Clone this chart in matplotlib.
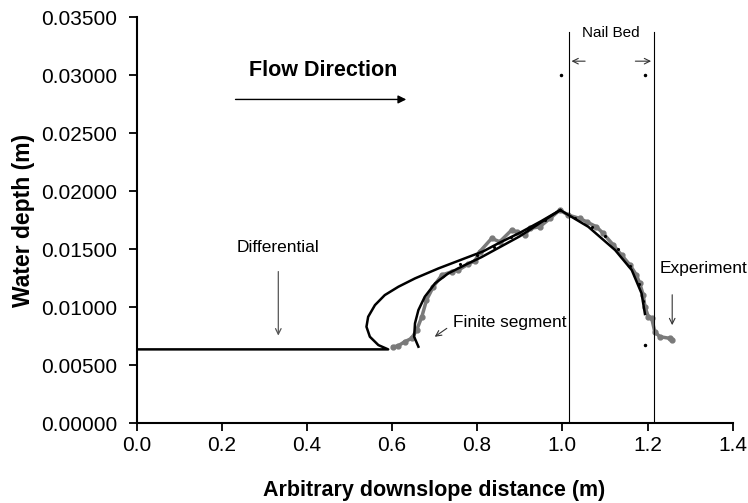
import numpy as np
import matplotlib.pyplot as plt

plt.rcParams['font.family'] = ['Liberation Sans', 'DejaVu Sans']

# differential solution (solid black)
diff_x = [0.0, 0.591, 0.568, 0.548, 0.540, 0.544, 0.560, 0.583, 0.615, 0.654, 0.709,
          0.771, 0.814, 0.850, 0.900, 0.950, 0.995, 1.061, 1.124, 1.163, 1.186, 1.194]
diff_y = [0.00635, 0.00635, 0.00672, 0.00744, 0.0083, 0.00916, 0.01017, 0.01103, 0.01175,
          0.01247, 0.01333, 0.0142, 0.0148, 0.0155, 0.0164, 0.0174, 0.01836, 0.01692,
          0.01491, 0.01319, 0.01118, 0.0094]

# finite segment solution (solid black, second branch)
fin_x = [0.662, 0.652, 0.654, 0.662, 0.677, 0.701, 0.732, 0.771, 0.810, 0.850, 0.900,
         0.950, 0.995]
fin_y = [0.00658, 0.00744, 0.0086, 0.00974, 0.01089, 0.01204, 0.0129, 0.01362, 0.0143,
         0.0151, 0.0161, 0.0173, 0.01836]

# model points (black dots)
dot_x = [0.76, 0.80, 0.84, 0.88, 0.92, 0.96, 0.995, 1.03, 1.07, 1.10, 1.13, 1.16, 1.18, 1.19]
dot_y = [0.0137, 0.0145, 0.0152, 0.0160, 0.0167, 0.0175, 0.01836, 0.0177, 0.0169, 0.0161,
         0.0150, 0.0135, 0.0120, 0.0105]
pts_x = [0.996, 1.194, 1.194]
pts_y = [0.0300, 0.0300, 0.00672]

# experiment (grey)
exp_x = [0.603, 0.614, 0.630, 0.646, 0.658, 0.670, 0.681, 0.697, 0.717, 0.740, 0.756, 0.779,
         0.795, 0.806, 0.834, 0.853, 0.881, 0.893, 0.912, 0.924, 0.947, 0.971, 0.994, 1.014,
         1.041, 1.057, 1.080, 1.096, 1.120, 1.139, 1.159, 1.174, 1.182, 1.190, 1.194, 1.202,
         1.210, 1.217, 1.229, 1.253, 1.257]
exp_y = [0.00658, 0.00665, 0.00701, 0.0073, 0.00802, 0.00916, 0.0106, 0.01175, 0.01276,
         0.01304, 0.01319, 0.0137, 0.0140, 0.01477, 0.01592, 0.01563, 0.01664, 0.01649,
         0.0162, 0.01678, 0.01692, 0.01764, 0.01836, 0.01793, 0.01764, 0.01735, 0.01692,
         0.01635, 0.01534, 0.01448, 0.01362, 0.01276, 0.01204, 0.01103, 0.01003, 0.00916,
         0.00902, 0.00787, 0.00744, 0.0073, 0.00716]

nail_bed = [1.015, 1.215]

fig = plt.figure(figsize=(7.48, 5.03), dpi=100)
ax = fig.add_axes([0.1825, 0.159, 0.797, 0.807])

ax.plot(exp_x, exp_y, color='#7a7a7a', lw=2.5, marker='o', ms=3.5, zorder=2)
ax.plot(diff_x, diff_y, color='black', lw=1.8, zorder=3)
ax.plot(fin_x, fin_y, color='black', lw=1.8, zorder=3)
ax.plot(dot_x, dot_y, color='black', lw=0, marker='.', ms=2.5, zorder=4)
ax.plot(pts_x, pts_y, color='black', lw=0, marker='.', ms=3, zorder=4)

for xv in nail_bed:
    ax.plot([xv, xv], [0, 0.0337], color='black', lw=0.8)

ax.text(1.115, 0.0336, 'Nail Bed', ha='center', va='center', fontsize=11)
ax.annotate('', xy=(nail_bed[0], 0.0312), xytext=(1.06, 0.0312),
            arrowprops=dict(arrowstyle='->', color='#333333', lw=0.8))
ax.annotate('', xy=(nail_bed[1], 0.0312), xytext=(1.165, 0.0312),
            arrowprops=dict(arrowstyle='->', color='#333333', lw=0.8))

ax.text(0.438, 0.0304, 'Flow Direction', ha='center', va='center',
        fontsize=15.5, fontweight='bold')
ax.annotate('', xy=(0.64, 0.0279), xytext=(0.226, 0.0279),
            arrowprops=dict(arrowstyle='-|>', color='black', lw=1, mutation_scale=12))

ax.text(0.333, 0.0151, 'Differential', ha='center', va='center', fontsize=12.5)
ax.annotate('', xy=(0.333, 0.0073), xytext=(0.333, 0.0133),
            arrowprops=dict(arrowstyle='->', color='#555555', lw=0.9))

ax.text(0.744, 0.0087, 'Finite segment', ha='left', va='center', fontsize=12.4)
ax.annotate('', xy=(0.695, 0.0073), xytext=(0.734, 0.0083),
            arrowprops=dict(arrowstyle='->', color='#333333', lw=0.8))

ax.text(1.229, 0.0133, 'Experiment', ha='left', va='center', fontsize=12.5)
ax.annotate('', xy=(1.258, 0.0082), xytext=(1.258, 0.0113),
            arrowprops=dict(arrowstyle='->', color='#333333', lw=0.8))

ax.set_xlim(0, 1.4)
ax.set_ylim(0, 0.035)
ax.set_xticks(np.arange(0, 1.41, 0.2))
ax.set_yticks(np.arange(0, 0.0351, 0.005))
ax.set_xticklabels(['%.1f' % v for v in np.arange(0, 1.41, 0.2)])
ax.set_yticklabels(['%.5f' % v for v in np.arange(0, 0.0351, 0.005)])
ax.tick_params(labelsize=15, direction='out', length=6, width=1.3, color='black')
ax.tick_params(axis='y', pad=8)
ax.spines['top'].set_visible(False)
ax.spines['right'].set_visible(False)
ax.spines['left'].set_linewidth(1.5)
ax.spines['bottom'].set_linewidth(1.5)
ax.set_xlabel('Arbitrary downslope distance (m)', fontsize=15.5, fontweight='bold', labelpad=18)
ax.set_ylabel('Water depth (m)', fontsize=16.5, fontweight='bold', labelpad=4)

fig.savefig('out.png', dpi=100)
